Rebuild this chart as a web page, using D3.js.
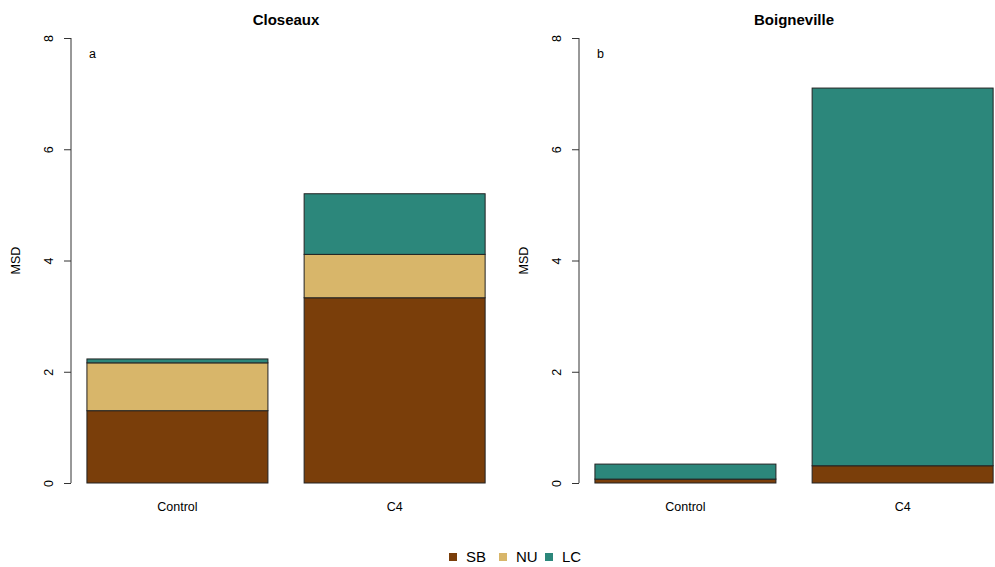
<!DOCTYPE html>
<html><head><meta charset="utf-8">
<script src="https://cdn.jsdelivr.net/npm/d3@7"></script>
<style>body{margin:0;background:#fff}svg{font-family:"Liberation Sans",Arial,sans-serif}</style>
</head><body>
<svg id="c" width="995" height="567"></svg>
<script>
const sites = ["Closeaux","Boigneville"];
const panelLetters = ["a","b"];
const categories = ["Control","C4"];
const seriesNames = ["SB","NU","LC"];
const colors = ["#7A3E0A","#D8B66A","#2C877B"];
// values per site: [Control, C4]
const SB = [[1.30, 3.33],[0.07, 0.31]];
const NU = [[0.86, 0.78],[0.00, 0.00]];
const LC = [[0.07, 1.09],[0.27, 6.79]];
const yTicks = [0,2,4,6,8];

const svg = d3.select("#c");
const panelLeft = [71, 579];
const pxPerUnit = 181;
const y = d3.scaleLinear().domain([0,8]).range([483,38]);

sites.forEach((site, si) => {
  const L = panelLeft[si];
  const x = d3.scaleLinear().domain([0.112, 2.488]).range([L, L + 2.376*pxPerUnit]);
  const g = svg.append("g");
  const ax = g.append("g").attr("transform", `translate(${L},0)`)
    .call(d3.axisLeft(y).tickValues(yTicks).tickSize(7).tickFormat(d3.format("d")));
  ax.select(".domain").attr("stroke","#333").attr("d", `M0,${y(0)}V${y(8)}`);
  ax.selectAll(".tick line").attr("stroke","#333");
  ax.selectAll(".tick text").attr("font-size",12.5).attr("fill","#000")
    .attr("text-anchor","middle")
    .attr("transform", `rotate(-90) translate(0,-18)`).attr("x",0).attr("y",-4).attr("dy","0.35em");
  g.append("text").attr("transform", `translate(${L-51},${y(4)}) rotate(-90)`)
    .attr("text-anchor","middle").attr("font-size",12.5).text("MSD");
  g.append("text").attr("x", L + 1.188*pxPerUnit).attr("y", 25)
    .attr("text-anchor","middle").attr("font-size",15).attr("font-weight","bold").text(site);
  g.append("text").attr("x", L+18).attr("y", 58).attr("font-size",12.5).text(panelLetters[si]);
  categories.forEach((cat, ci) => {
    const x0 = 0.2 + ci*1.2, x1 = x0 + 1;
    const vals = [SB[si][ci], NU[si][ci], LC[si][ci]];
    let base = 0;
    vals.forEach((v, k) => {
      if (v > 0) {
        g.append("rect").attr("x", x(x0)).attr("width", x(x1)-x(x0))
          .attr("y", y(base+v)).attr("height", y(base)-y(base+v))
          .attr("fill", colors[k]).attr("stroke","#222").attr("stroke-width",1);
      }
      base += v;
    });
    g.append("text").attr("x", x((x0+x1)/2)).attr("y", 511).attr("text-anchor","middle")
      .attr("font-size",12.5).text(cat);
  });
});

const legX = [453, 503, 549];
seriesNames.forEach((s, i) => {
  svg.append("rect").attr("x", legX[i]-4).attr("y", 553).attr("width",8).attr("height",8).attr("fill", colors[i]);
  svg.append("text").attr("x", legX[i]+13).attr("y", 562).attr("font-size",15).text(s);
});
</script>
</body></html>
